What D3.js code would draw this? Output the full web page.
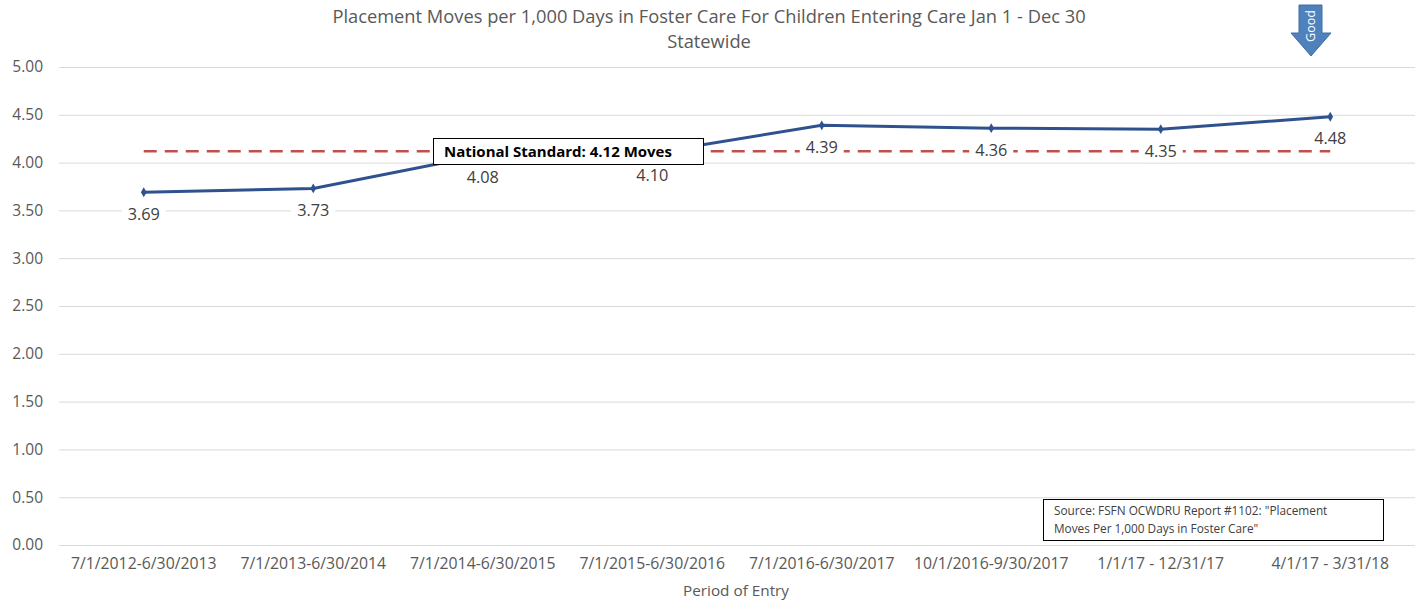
<!DOCTYPE html>
<html><head><meta charset="utf-8">
<script src="https://cdn.jsdelivr.net/npm/d3@7"></script>
<style>body{margin:0;background:#fff}svg{font-family:"Open Sans","Noto Sans",sans-serif}</style>
</head><body><svg id="c" width="1422" height="601"></svg>
<script>
const categories = ["7/1/2012-6/30/2013","7/1/2013-6/30/2014","7/1/2014-6/30/2015","7/1/2015-6/30/2016","7/1/2016-6/30/2017","10/1/2016-9/30/2017","1/1/17 - 12/31/17","4/1/17 - 3/31/18"];
const values = [3.69,3.73,4.08,4.10,4.39,4.36,4.35,4.48];
const nationalStandard = 4.12;
const yTicks = [0,0.5,1,1.5,2,2.5,3,3.5,4,4.5,5];
const titleLines = ["Placement  Moves per 1,000 Days in Foster Care For Children Entering Care Jan 1 - Dec 30","Statewide"];

const svg = d3.select("#c");
const L=59,R=1415,T=67,B=545;
const x = d3.scaleBand().domain(categories).range([L,R]);
const y = d3.scaleLinear().domain([0,5]).range([B,T]);
const cx = d => x(d)+x.bandwidth()/2;
const txt="#595959";

// gridlines
svg.append("g").selectAll("line").data(yTicks).join("line")
  .attr("x1",L).attr("x2",R).attr("y1",d=>y(d)+0.5).attr("y2",d=>y(d)+0.5)
  .attr("stroke","#d9d9d9").attr("stroke-width",1);

// y axis labels
const yAxis = d3.axisLeft(y).tickValues(yTicks).tickFormat(d3.format(".2f")).tickSize(0).tickPadding(16);
const gy = svg.append("g").attr("transform",`translate(${L},0)`).call(yAxis);
gy.select(".domain").remove();
gy.selectAll("text").attr("fill",txt).style("font-size","15.5px").style("font-family","'Open Sans',sans-serif");

// x axis labels
const xAxis = d3.axisBottom(x).tickSize(0).tickPadding(13);
const gx = svg.append("g").attr("transform",`translate(0,${B})`).call(xAxis);
gx.select(".domain").remove();
gx.selectAll("text").attr("fill",txt).style("font-size","15.8px").style("font-family","'Open Sans',sans-serif");

// title
svg.append("g").selectAll("text").data(titleLines).join("text")
  .attr("x",709).attr("y",(d,i)=>23+i*25).attr("text-anchor","middle")
  .attr("fill",txt).style("font-size","18.3px").text(d=>d);

svg.append("text").attr("x",736).attr("y",596).attr("text-anchor","middle")
  .attr("fill",txt).style("font-size","15.3px").text("Period of Entry");

// national standard dashed line
svg.append("line").attr("x1",cx(categories[0])).attr("x2",cx(categories[categories.length-1]))
  .attr("y1",y(nationalStandard)).attr("y2",y(nationalStandard))
  .attr("stroke","#c0504d").attr("stroke-width",2.5).attr("stroke-dasharray","13,8");

// data labels with white bg
const lab = svg.append("g").selectAll("g").data(values).join("g")
  .attr("transform",(d,i)=>`translate(${cx(categories[i])},${y(d)+22})`);
lab.append("rect").attr("x",-22).attr("y",-11).attr("width",44).attr("height",22).attr("fill","#fff");
lab.append("text").attr("text-anchor","middle").attr("dy","0.35em")
  .attr("fill","#404040").style("font-size","16.3px").text(d=>d3.format(".2f")(d));

// line
const line = d3.line().x((d,i)=>cx(categories[i])).y(d=>y(d));
svg.append("path").datum(values).attr("d",line).attr("fill","none")
  .attr("stroke","#2f528f").attr("stroke-width",3);
svg.append("g").selectAll("path").data(values).join("path")
  .attr("d",d3.symbol(d3.symbolDiamond,28))
  .attr("transform",(d,i)=>`translate(${cx(categories[i])},${y(d)})`)
  .attr("fill","#2f528f");

// national standard box
svg.append("rect").attr("x",433.5).attr("y",138.5).attr("width",270).attr("height",26)
  .attr("fill","#fff").attr("stroke","#000").attr("stroke-width",1);
svg.append("text").attr("x",444).attr("y",157).attr("fill","#000")
  .style("font-size","15px").style("font-weight","bold").text("National Standard: 4.12 Moves");

// source box
svg.append("rect").attr("x",1043.5).attr("y",499.5).attr("width",340).attr("height",41)
  .attr("fill","#fff").attr("stroke","#000").attr("stroke-width",1);
const st = svg.append("text").attr("fill","#404040").style("font-size","11.8px");
st.append("tspan").attr("x",1054).attr("y",515).text("Source: FSFN OCWDRU Report #1102: \"Placement");
st.append("tspan").attr("x",1054).attr("y",533).text("Moves Per 1,000 Days in Foster Care\"");

// Good arrow
svg.append("path").attr("d","M1299,5 L1322,5 L1322,33 L1331,33 L1311,56 L1291,33 L1299,33 Z")
  .attr("fill","#4f81bd").attr("stroke","#3f6fa5").attr("stroke-width",1);
svg.append("text").attr("transform","translate(1315,26) rotate(-90)").attr("text-anchor","middle")
  .attr("fill","#fff").style("font-size","12.5px").text("Good");
</script></body></html>
